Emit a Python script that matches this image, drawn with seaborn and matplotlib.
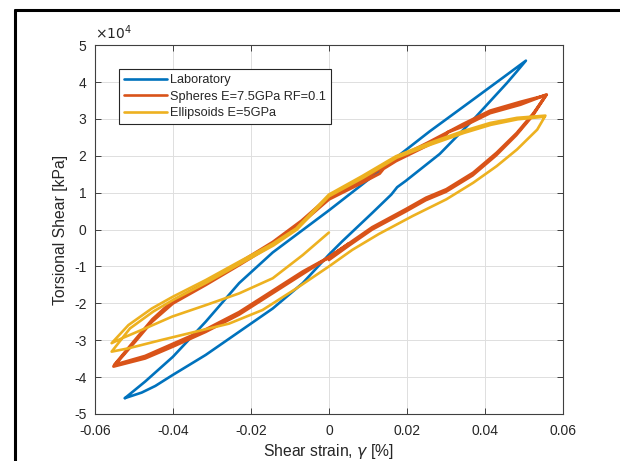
import numpy as np
import pandas as pd
import seaborn as sns
import matplotlib.pyplot as plt
from matplotlib.lines import Line2D

# shear strain [%] and torsional shear [x 1e4 kPa]
lab_x = [-0.0523, -0.0480, -0.0445, -0.0400, -0.0316, -0.0230, -0.0144, -0.0067, 0.0000,
         0.0034, 0.0111, 0.0160, 0.0175, 0.0197, 0.0284, 0.0370, 0.0456, 0.0482, 0.0505,
         0.0450, 0.0360, 0.0258, 0.0172, 0.0085, 0.0000, -0.0072, -0.0144,
         -0.0230, -0.0316, -0.0400, -0.0471, -0.0523]
lab_y = [-4.57, -4.42, -4.24, -3.94, -3.40, -2.77, -2.14, -1.45, -0.68,
         -0.32, 0.45, 0.95, 1.15, 1.32, 2.05, 2.98, 3.97, 4.29, 4.58,
         4.15, 3.45, 2.66, 1.95, 1.22, 0.52, -0.05, -0.62,
         -1.45, -2.50, -3.45, -4.12, -4.57]

sph_x = [0.0051, 0.0000, -0.0067, -0.0144, -0.0230, -0.0316, -0.0400, -0.0471, -0.0552,
         -0.0497, -0.0454, -0.0400, -0.0316, -0.0230, -0.0144, -0.0070, 0.0000, 0.0085,
         0.0130, 0.0140, 0.0172, 0.0258, 0.0295, 0.0305, 0.0344, 0.0413, 0.0491, 0.0558,
         0.0525, 0.0482, 0.0430, 0.0370, 0.0301, 0.0249, 0.0197, 0.0111, 0.0051, 0.0000,
         -0.0067, -0.0144, -0.0230, -0.0316, -0.0400, -0.0471, -0.0550,
         -0.0495, -0.0452, -0.0400, -0.0316, -0.0230, -0.0144, -0.0070, 0.0000, 0.0085,
         0.0172, 0.0258, 0.0344, 0.0413, 0.0491, 0.0556,
         0.0523, 0.0480, 0.0428, 0.0368, 0.0300, 0.0248, 0.0196, 0.0110, 0.0050, 0.0000]
sph_y = [-0.38, -0.75, -1.20, -1.72, -2.30, -2.77, -3.17, -3.49, -3.71,
         -3.04, -2.50, -2.00, -1.50, -0.96, -0.40, 0.18, 0.82, 1.27,
         1.52, 1.65, 1.86, 2.31, 2.50, 2.64, 2.80, 3.16, 3.39, 3.66,
         3.16, 2.62, 2.08, 1.54, 1.09, 0.86, 0.55, 0.06, -0.38, -0.75,
         -1.14, -1.66, -2.24, -2.71, -3.10, -3.43, -3.67,
         -2.97, -2.43, -1.93, -1.44, -0.90, -0.34, 0.24, 0.89, 1.34,
         1.92, 2.38, 2.86, 3.22, 3.46, 3.64,
         3.10, 2.56, 2.01, 1.47, 1.03, 0.80, 0.49, 0.00, -0.44, -0.82]

ell_x = [0.0000, -0.0067, -0.0144, -0.0230, -0.0316, -0.0402, -0.0471, -0.0531, -0.0557,
         -0.0514, -0.0454, -0.0400, -0.0316, -0.0230, -0.0144, -0.0084, 0.0000, 0.0085,
         0.0172, 0.0258, 0.0344, 0.0413, 0.0482, 0.0555,
         0.0534, 0.0482, 0.0430, 0.0370, 0.0301, 0.0215, 0.0128, 0.0060, 0.0000,
         -0.0084, -0.0170, -0.0256, -0.0342, -0.0428, -0.0514, -0.0557,
         -0.0510, -0.0450, -0.0398, -0.0314, -0.0228, -0.0142, -0.0082, 0.0000, 0.0087,
         0.0174, 0.0260, 0.0346, 0.0415, 0.0484, 0.0553]
ell_y = [-0.08, -0.69, -1.32, -1.73, -2.05, -2.36, -2.68, -2.95, -3.08,
         -2.59, -2.14, -1.82, -1.37, -0.87, -0.38, 0.03, 0.95, 1.45,
         1.99, 2.35, 2.67, 2.89, 3.03, 3.09,
         2.71, 2.17, 1.72, 1.27, 0.82, 0.37, -0.12, -0.55, -1.00,
         -1.60, -2.18, -2.55, -2.77, -2.99, -3.22, -3.31,
         -2.68, -2.22, -1.90, -1.44, -0.93, -0.43, 0.00, 0.90, 1.40,
         1.95, 2.30, 2.62, 2.84, 2.99, 3.06]

series = [
    ("Laboratory", lab_x, lab_y, "#0072BD", 1.9),
    ("Spheres E=7.5GPa RF=0.1", sph_x, sph_y, "#D95319", 2.2),
    ("Ellipsoids E=5GPa", ell_x, ell_y, "#EDB120", 1.9),
]

sns.set_style("ticks")
plt.rcParams["font.family"] = ["Liberation Sans", "DejaVu Sans"]
text_col = "#262626"

fig = plt.figure(figsize=(6.2, 4.61), dpi=100)
ax = fig.add_axes([0.153, 0.102, 0.755, 0.800])

for name, xs, ys, col, lw in series:
    sns.lineplot(x=xs, y=ys, sort=False, estimator=None, color=col,
                 lw=lw, label=name, ax=ax)

ax.set_xlim(-0.06, 0.06)
ax.set_ylim(-5, 5)
ax.set_xticks([-0.06, -0.04, -0.02, 0, 0.02, 0.04, 0.06])
ax.set_xticklabels(["-0.06", "-0.04", "-0.02", "0", "0.02", "0.04", "0.06"])
ax.set_yticks(range(-5, 6))
ax.set_yticklabels([str(v) for v in range(-5, 6)])
ax.grid(True, color="#dedede", lw=0.7)
ax.set_axisbelow(True)
ax.tick_params(direction="in", top=True, right=True, length=4, width=0.6,
               color=text_col, labelcolor=text_col, labelsize=10)
ax.tick_params(axis="x", pad=7)
ax.tick_params(axis="y", pad=6)
for sp in ax.spines.values():
    sp.set_color("#404040")
    sp.set_linewidth(0.8)

ax.set_xlabel(r"Shear strain, $\gamma$ [%]", fontsize=11.3, color=text_col, labelpad=3)
ax.set_ylabel("Torsional Shear [kPa]", fontsize=11.3, color=text_col, labelpad=4)
ax.text(0.0, 1.008, r"$\times10^{4}$", transform=ax.transAxes, fontsize=10,
        color=text_col, va="bottom", ha="left")

leg = ax.legend(loc="upper left", bbox_to_anchor=(0.051, 0.935), fontsize=9.2,
                frameon=True, fancybox=False, edgecolor="#262626", framealpha=1,
                handlelength=3.4, handletextpad=0.2, labelspacing=0.35,
                borderpad=0.4, borderaxespad=0)
leg.get_frame().set_linewidth(0.8)
for h in leg.get_lines():
    h.set_linewidth(1.9)

# screenshot frame on the left and top
fig.add_artist(Line2D([0.0237, 0.0237], [0.0, 0.978], color="black", lw=2.2))
fig.add_artist(Line2D([0.0237, 1.0], [0.978, 0.978], color="black", lw=2.2))

fig.savefig("out.png", dpi=100)
